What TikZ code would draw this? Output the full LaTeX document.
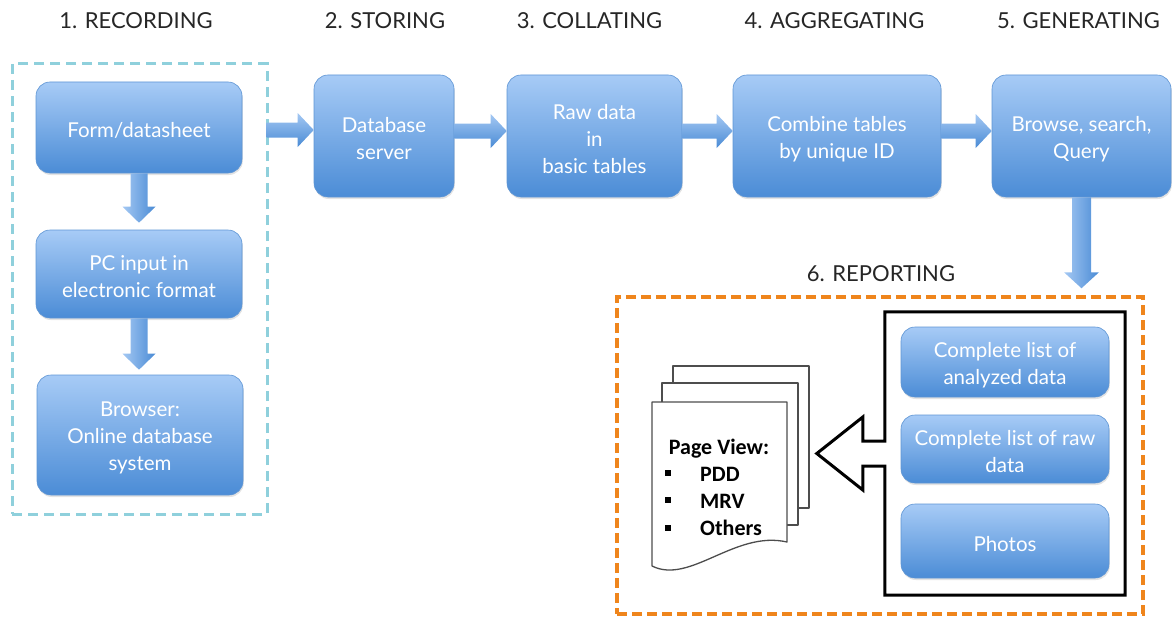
\documentclass[tikz,border=0pt]{standalone}
\usepackage{fontspec}
\setmainfont{Lato}
\newfontfamily\calib{Carlito}
\usetikzlibrary{calc,shadows}
\definecolor{boxtop}{HTML}{A7CBF6}
\definecolor{boxbot}{HTML}{4B8CD6}
\definecolor{boxline}{HTML}{5E95D4}
\definecolor{arrlight}{HTML}{A4C8F3}
\definecolor{arrdark}{HTML}{4A8BD5}
\definecolor{cyandash}{HTML}{8FD0DC}
\definecolor{orangedash}{HTML}{EF851C}
\definecolor{titlecol}{HTML}{262626}
\definecolor{pageline}{HTML}{4D4D4D}
\newcommand\tstrut{\rule{0pt}{21pt}}
\newcommand\myharrow[2]{%
  \path[harrowfill] let \p1=(#1), \p2=(#2) in
   (\x1,\y1+7.5pt) -- (\x2-16pt,\y1+7.5pt) -- (\x2-16pt,\y1+17pt) -- (\x2,\y1)
   -- (\x2-16pt,\y1-17pt) -- (\x2-16pt,\y1-7.5pt) -- (\x1,\y1-7.5pt) -- cycle;}
\newcommand\myvarrow[4]{%
  \path[varrowfill] let \p1=(#1), \p2=(#2) in
   (\x1-#3,\y1) -- (\x1-#3,\y2+16pt) -- (\x1-#4,\y2+16pt) -- (\x1,\y2)
   -- (\x1+#4,\y2+16pt) -- (\x1+#3,\y2+16pt) -- (\x1+#3,\y1) -- cycle;}
\begin{document}
\begin{tikzpicture}[x=1pt,y=-1pt,
  bluebox/.style={rectangle, rounded corners=14pt, draw=boxline, line width=0.6pt,
    top color=boxtop, bottom color=boxbot, text=white, align=center,
    font=\fontsize{20.5}{27}\selectfont, inner sep=0pt,
    drop shadow={shadow xshift=0.8pt, shadow yshift=-2pt, opacity=0.22}},
  title/.style={font=\fontsize{22}{26}\selectfont, text=titlecol, inner sep=0pt},
  harrowfill/.style={top color=arrlight, bottom color=arrdark, draw=none},
  varrowfill/.style={left color=arrlight, right color=arrdark, draw=none},
  page/.style={fill=white, draw=pageline, line width=1.3pt, line join=round},
  doctext/.style={font=\calib\bfseries\fontsize{22}{26}\selectfont, inner sep=0pt},
  listline/.style={draw=black, fill=white, line width=3pt, line join=miter}
]
\useasboundingbox (0,0) rectangle (1173,618);

% titles
\node[title] (t1) at (136,21) {1. RECORDING};
\node[title] (t2) at (385,21) {2. STORING};
\node[title] (t3) at (589.5,21) {3. COLLATING};
\node[title] (t4) at (834.5,21) {4. AGGREGATING};
\node[title] (t5) at (1078.5,21) {5. GENERATING};
\node[title] (t6) at (881,274) {6. REPORTING};

% frames
\node[draw=cyandash, line width=3pt, dash pattern=on 10pt off 6pt, minimum width=255pt, minimum height=450pt, inner sep=0pt] (recbox) at (139.5,289) {};
\node[draw=orangedash, line width=3.5pt, dash pattern=on 10pt off 5pt, minimum width=526pt, minimum height=317pt, inner sep=0pt] (repbox) at (880,455.5) {};

% recording column
\node[bluebox, minimum width=206pt, minimum height=91pt] (rec1) at (139,127.5) {\tstrut Form/datasheet};
\node[bluebox, minimum width=206pt, minimum height=88pt] (rec2) at (139,274) {\tstrut PC input in\\electronic format};
\node[bluebox, minimum width=206pt, minimum height=120pt] (rec3) at (140,435) {\tstrut Browser:\\Online database\\system};

% main row
\node[bluebox, minimum width=140pt, minimum height=122pt] (db) at (384,136) {\tstrut Database\\server};
\node[bluebox, minimum width=175pt, minimum height=122pt] (raw) at (594.5,136) {\tstrut Raw data\\in\\basic tables};
\node[bluebox, minimum width=208pt, minimum height=122pt] (comb) at (837,136) {\tstrut Combine tables\\by unique ID};
\node[bluebox, minimum width=179pt, minimum height=122pt] (brow) at (1081.5,136) {\tstrut Browse, search,\\Query};

% arrows
\myvarrow{rec1.south}{$(rec2.north)+(0,-7)$}{8.5pt}{16.5pt}
\myvarrow{rec2.south}{$(rec3.north)+(0,-5)$}{8.5pt}{16.5pt}
\myharrow{$(recbox.east |- db.east)+(-2,-6)$}{$(db.west)+(0,-6)$}
\myharrow{$(db.east)+(0,-5)$}{$(raw.west)+(0,-5)$}
\myharrow{$(raw.east)+(0,-5)$}{$(comb.west)+(0,-5)$}
\myharrow{$(comb.east)+(0,-5)$}{$(brow.west)+(0,-5)$}
\myvarrow{brow.south}{$(brow.south |- repbox.north)+(0,-7)$}{9.5pt}{17.5pt}

% list frame with hollow arrow
\node[minimum width=240pt, minimum height=283pt, inner sep=0pt] (listbox) at (1005,453.5) {};
\draw[listline] ([yshift=12.5pt]listbox.west) |- (listbox.north east) |- (listbox.south west)
  -- ([yshift=-12.5pt]listbox.west) -- ++(-22pt,0) -- ++(0,-24pt) -- ++(-46pt,36.5pt)
  -- ++(46pt,36.5pt) -- ++(0,-24pt) -- cycle;

\node[bluebox, minimum width=208pt, minimum height=70pt] (r1) at (1005,362) {\tstrut Complete list of\\analyzed data};
\node[bluebox, minimum width=208pt, minimum height=68pt] (r2) at (1005,449) {\tstrut Complete list of raw\\data};
\node[bluebox, minimum width=208pt, minimum height=74pt] (r3) at (1005,541) {\tstrut Photos};

% document stack
\draw[page] (673,366) rectangle (809,508);
\draw[page] (662,383) rectangle (798,525);
\draw[page] (652,402) -- (787,402) -- (787,542) .. controls (735,530) and (690,585) .. (652,566) -- cycle;
\node[doctext] (pv) at (719,449) {Page View:};
\fill (665,470) rectangle (671,476);
\fill (665,497) rectangle (671,503);
\fill (665,525) rectangle (671,531);
\node[doctext, anchor=west] (i1) at (700,474) {PDD};
\node[doctext, anchor=west] (i2) at (700,501) {MRV};
\node[doctext, anchor=west] (i3) at (700,528) {Others};
\end{tikzpicture}
\end{document}
